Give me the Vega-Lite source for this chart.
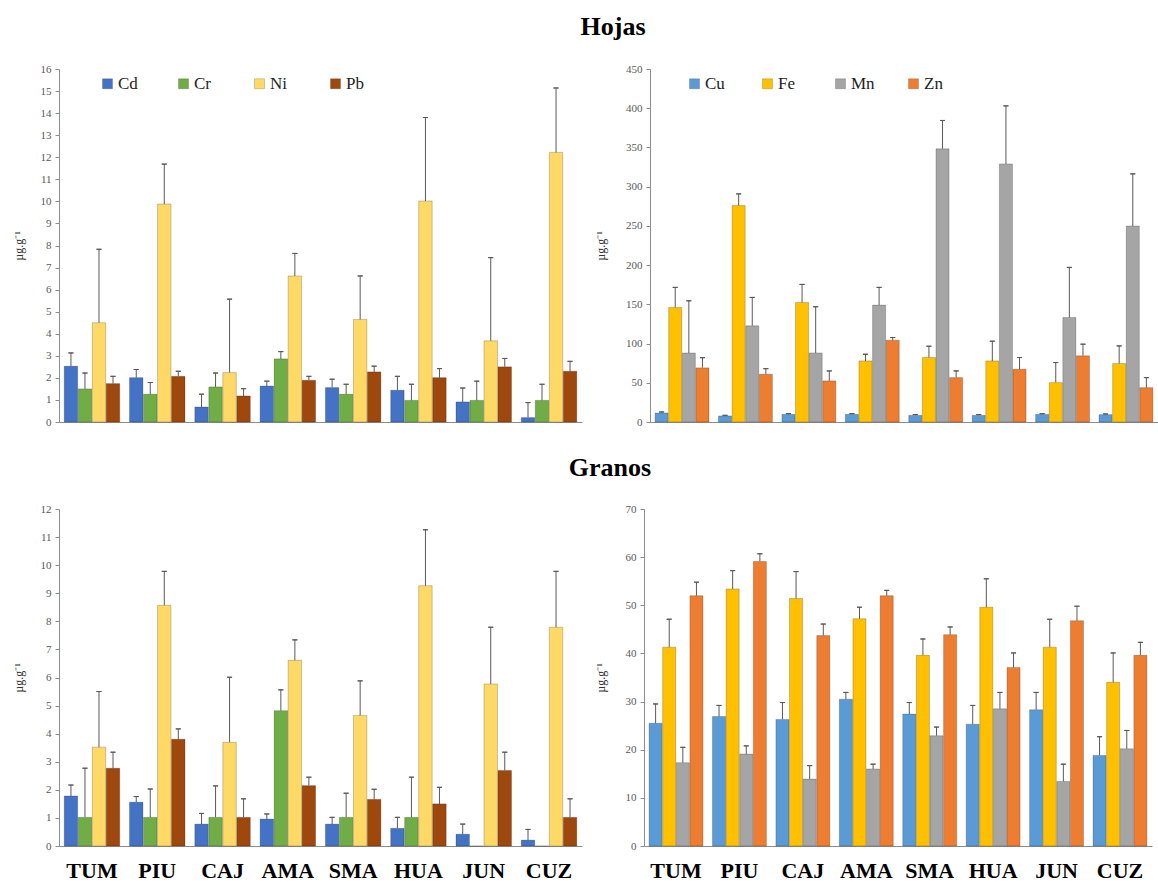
{
  "$schema": "https://vega.github.io/schema/vega-lite/v6.json",
  "background": "white",
  "padding": {"left": 12, "top": 14, "right": 0, "bottom": 0},
  "config": {
    "font": "Liberation Serif",
    "view": {"stroke": null},
    "axis": {"grid": false, "domainColor": "#8c8c8c", "tickColor": "#8c8c8c", "labelFont": "Liberation Serif", "titleFont": "Liberation Serif"},
    "legend": {"labelFont": "Liberation Serif"},
    "concat": {"spacing": 12}
  },
  "datasets": {
    "hojasA": [
      {"loc": "TUM", "el": "Cd", "v": 2.53, "e": 3.13}, {"loc": "TUM", "el": "Cr", "v": 1.50, "e": 2.22}, {"loc": "TUM", "el": "Ni", "v": 4.50, "e": 7.83}, {"loc": "TUM", "el": "Pb", "v": 1.74, "e": 2.07},
      {"loc": "PIU", "el": "Cd", "v": 2.01, "e": 2.38}, {"loc": "PIU", "el": "Cr", "v": 1.26, "e": 1.79}, {"loc": "PIU", "el": "Ni", "v": 9.88, "e": 11.69}, {"loc": "PIU", "el": "Pb", "v": 2.07, "e": 2.30},
      {"loc": "CAJ", "el": "Cd", "v": 0.68, "e": 1.26}, {"loc": "CAJ", "el": "Cr", "v": 1.59, "e": 2.22}, {"loc": "CAJ", "el": "Ni", "v": 2.24, "e": 5.57}, {"loc": "CAJ", "el": "Pb", "v": 1.18, "e": 1.51},
      {"loc": "AMA", "el": "Cd", "v": 1.63, "e": 1.85}, {"loc": "AMA", "el": "Cr", "v": 2.86, "e": 3.19}, {"loc": "AMA", "el": "Ni", "v": 6.62, "e": 7.64}, {"loc": "AMA", "el": "Pb", "v": 1.89, "e": 2.07},
      {"loc": "SMA", "el": "Cd", "v": 1.56, "e": 1.94}, {"loc": "SMA", "el": "Cr", "v": 1.26, "e": 1.71}, {"loc": "SMA", "el": "Ni", "v": 4.65, "e": 6.62}, {"loc": "SMA", "el": "Pb", "v": 2.27, "e": 2.53},
      {"loc": "HUA", "el": "Cd", "v": 1.44, "e": 2.07}, {"loc": "HUA", "el": "Cr", "v": 0.98, "e": 1.71}, {"loc": "HUA", "el": "Ni", "v": 10.02, "e": 13.80}, {"loc": "HUA", "el": "Pb", "v": 2.01, "e": 2.42},
      {"loc": "JUN", "el": "Cd", "v": 0.91, "e": 1.54}, {"loc": "JUN", "el": "Cr", "v": 0.98, "e": 1.85}, {"loc": "JUN", "el": "Ni", "v": 3.68, "e": 7.45}, {"loc": "JUN", "el": "Pb", "v": 2.50, "e": 2.88},
      {"loc": "CUZ", "el": "Cd", "v": 0.20, "e": 0.88}, {"loc": "CUZ", "el": "Cr", "v": 0.98, "e": 1.71}, {"loc": "CUZ", "el": "Ni", "v": 12.22, "e": 15.14}, {"loc": "CUZ", "el": "Pb", "v": 2.30, "e": 2.75}
    ],
    "hojasB": [
      {"loc": "TUM", "el": "Cu", "v": 11.5, "e": 12.8}, {"loc": "TUM", "el": "Fe", "v": 146.0, "e": 171.6}, {"loc": "TUM", "el": "Mn", "v": 88.0, "e": 154.5}, {"loc": "TUM", "el": "Zn", "v": 69.0, "e": 82.0},
      {"loc": "PIU", "el": "Cu", "v": 7.7, "e": 8.5}, {"loc": "PIU", "el": "Fe", "v": 275.9, "e": 290.8}, {"loc": "PIU", "el": "Mn", "v": 122.6, "e": 158.8}, {"loc": "PIU", "el": "Zn", "v": 60.9, "e": 68.0},
      {"loc": "CAJ", "el": "Cu", "v": 9.8, "e": 10.6}, {"loc": "CAJ", "el": "Fe", "v": 152.4, "e": 175.4}, {"loc": "CAJ", "el": "Mn", "v": 88.1, "e": 146.9}, {"loc": "CAJ", "el": "Zn", "v": 52.4, "e": 65.1},
      {"loc": "AMA", "el": "Cu", "v": 9.8, "e": 10.6}, {"loc": "AMA", "el": "Fe", "v": 77.9, "e": 86.4}, {"loc": "AMA", "el": "Mn", "v": 149.0, "e": 171.6}, {"loc": "AMA", "el": "Zn", "v": 104.3, "e": 107.7},
      {"loc": "SMA", "el": "Cu", "v": 8.5, "e": 9.5}, {"loc": "SMA", "el": "Fe", "v": 82.2, "e": 96.6}, {"loc": "SMA", "el": "Mn", "v": 348.2, "e": 384.4}, {"loc": "SMA", "el": "Zn", "v": 56.6, "e": 65.1},
      {"loc": "HUA", "el": "Cu", "v": 8.5, "e": 9.5}, {"loc": "HUA", "el": "Fe", "v": 77.9, "e": 103.0}, {"loc": "HUA", "el": "Mn", "v": 329.0, "e": 403.0}, {"loc": "HUA", "el": "Zn", "v": 67.3, "e": 82.2},
      {"loc": "JUN", "el": "Cu", "v": 9.8, "e": 10.6}, {"loc": "JUN", "el": "Fe", "v": 50.2, "e": 75.8}, {"loc": "JUN", "el": "Mn", "v": 133.2, "e": 197.1}, {"loc": "JUN", "el": "Zn", "v": 84.3, "e": 99.2},
      {"loc": "CUZ", "el": "Cu", "v": 9.4, "e": 10.2}, {"loc": "CUZ", "el": "Fe", "v": 74.5, "e": 97.0}, {"loc": "CUZ", "el": "Mn", "v": 249.9, "e": 316.3}, {"loc": "CUZ", "el": "Zn", "v": 43.8, "e": 56.6}
    ],
    "granosA": [
      {"loc": "TUM", "el": "Cd", "v": 1.78, "e": 2.17}, {"loc": "TUM", "el": "Cr", "v": 1.02, "e": 2.77}, {"loc": "TUM", "el": "Ni", "v": 3.52, "e": 5.50}, {"loc": "TUM", "el": "Pb", "v": 2.77, "e": 3.34},
      {"loc": "PIU", "el": "Cd", "v": 1.56, "e": 1.76}, {"loc": "PIU", "el": "Cr", "v": 1.02, "e": 2.03}, {"loc": "PIU", "el": "Ni", "v": 8.57, "e": 9.78}, {"loc": "PIU", "el": "Pb", "v": 3.80, "e": 4.17},
      {"loc": "CAJ", "el": "Cd", "v": 0.78, "e": 1.16}, {"loc": "CAJ", "el": "Cr", "v": 1.02, "e": 2.14}, {"loc": "CAJ", "el": "Ni", "v": 3.69, "e": 6.01}, {"loc": "CAJ", "el": "Pb", "v": 1.02, "e": 1.68},
      {"loc": "AMA", "el": "Cd", "v": 0.96, "e": 1.14}, {"loc": "AMA", "el": "Cr", "v": 4.82, "e": 5.56}, {"loc": "AMA", "el": "Ni", "v": 6.61, "e": 7.34}, {"loc": "AMA", "el": "Pb", "v": 2.15, "e": 2.45},
      {"loc": "SMA", "el": "Cd", "v": 0.78, "e": 1.02}, {"loc": "SMA", "el": "Cr", "v": 1.02, "e": 1.88}, {"loc": "SMA", "el": "Ni", "v": 4.65, "e": 5.88}, {"loc": "SMA", "el": "Pb", "v": 1.66, "e": 2.02},
      {"loc": "HUA", "el": "Cd", "v": 0.63, "e": 1.02}, {"loc": "HUA", "el": "Cr", "v": 1.02, "e": 2.45}, {"loc": "HUA", "el": "Ni", "v": 9.27, "e": 11.26}, {"loc": "HUA", "el": "Pb", "v": 1.50, "e": 2.09},
      {"loc": "JUN", "el": "Cd", "v": 0.42, "e": 0.78}, {"loc": "JUN", "el": "Cr", "v": 0, "e": 0}, {"loc": "JUN", "el": "Ni", "v": 5.77, "e": 7.79}, {"loc": "JUN", "el": "Pb", "v": 2.69, "e": 3.34},
      {"loc": "CUZ", "el": "Cd", "v": 0.21, "e": 0.59}, {"loc": "CUZ", "el": "Cr", "v": 0, "e": 0}, {"loc": "CUZ", "el": "Ni", "v": 7.79, "e": 9.78}, {"loc": "CUZ", "el": "Pb", "v": 1.02, "e": 1.68}
    ],
    "granosB": [
      {"loc": "TUM", "el": "Cu", "v": 25.5, "e": 29.5}, {"loc": "TUM", "el": "Fe", "v": 41.3, "e": 47.1}, {"loc": "TUM", "el": "Mn", "v": 17.3, "e": 20.5}, {"loc": "TUM", "el": "Zn", "v": 52.0, "e": 54.8},
      {"loc": "PIU", "el": "Cu", "v": 26.9, "e": 29.2}, {"loc": "PIU", "el": "Fe", "v": 53.4, "e": 57.2}, {"loc": "PIU", "el": "Mn", "v": 19.1, "e": 20.8}, {"loc": "PIU", "el": "Zn", "v": 59.1, "e": 60.7},
      {"loc": "CAJ", "el": "Cu", "v": 26.3, "e": 29.8}, {"loc": "CAJ", "el": "Fe", "v": 51.4, "e": 57.0}, {"loc": "CAJ", "el": "Mn", "v": 13.9, "e": 16.7}, {"loc": "CAJ", "el": "Zn", "v": 43.7, "e": 46.1},
      {"loc": "AMA", "el": "Cu", "v": 30.5, "e": 31.9}, {"loc": "AMA", "el": "Fe", "v": 47.2, "e": 49.6}, {"loc": "AMA", "el": "Mn", "v": 16.0, "e": 17.0}, {"loc": "AMA", "el": "Zn", "v": 52.0, "e": 53.1},
      {"loc": "SMA", "el": "Cu", "v": 27.4, "e": 29.8}, {"loc": "SMA", "el": "Fe", "v": 39.6, "e": 43.0}, {"loc": "SMA", "el": "Mn", "v": 22.9, "e": 24.7}, {"loc": "SMA", "el": "Zn", "v": 43.9, "e": 45.5},
      {"loc": "HUA", "el": "Cu", "v": 25.3, "e": 29.2}, {"loc": "HUA", "el": "Fe", "v": 49.6, "e": 55.5}, {"loc": "HUA", "el": "Mn", "v": 28.5, "e": 31.9}, {"loc": "HUA", "el": "Zn", "v": 37.1, "e": 40.1},
      {"loc": "JUN", "el": "Cu", "v": 28.3, "e": 31.9}, {"loc": "JUN", "el": "Fe", "v": 41.3, "e": 47.1}, {"loc": "JUN", "el": "Mn", "v": 13.4, "e": 17.0}, {"loc": "JUN", "el": "Zn", "v": 46.8, "e": 49.8},
      {"loc": "CUZ", "el": "Cu", "v": 18.8, "e": 22.7}, {"loc": "CUZ", "el": "Fe", "v": 34.0, "e": 40.1}, {"loc": "CUZ", "el": "Mn", "v": 20.2, "e": 24.0}, {"loc": "CUZ", "el": "Zn", "v": 39.6, "e": 42.3}
    ]
  },
  "resolve": {"scale": {"color": "independent", "x": "independent", "xOffset": "independent", "y": "independent"}, "legend": {"color": "independent"}},
  "spacing": 28,
  "vconcat": [
    {
      "title": {"text": "Hojas", "fontSize": 26, "fontWeight": "bold", "font": "Liberation Serif", "color": "#000", "anchor": "middle", "dx": 28, "offset": 23},
      "resolve": {"scale": {"color": "independent", "x": "independent", "xOffset": "independent", "y": "independent"}, "legend": {"color": "independent"}},
      "hconcat": [
        {
          "width": 523, "height": 353,
          "data": {"name": "hojasA"},
          "encoding": {
            "x": {"field": "loc", "type": "nominal", "sort": ["TUM","PIU","CAJ","AMA","SMA","HUA","JUN","CUZ"], "scale": {"type": "band", "paddingInner": 0.15, "paddingOuter": 0.08}, "axis": {"title": null, "labels": false, "ticks": false}},
            "xOffset": {"field": "el", "type": "nominal", "sort": ["Cd","Cr","Ni","Pb"], "scale": {"type": "band", "paddingInner": 0.04, "paddingOuter": 0}},
            "y": {"field": "v", "type": "quantitative", "scale": {"domain": [0, 16]}, "axis": {"title": "µg.g⁻¹", "titleFont": "Liberation Serif", "titleFontSize": 12, "titleFontWeight": "normal", "titleColor": "#333", "titlePadding": 15, "values": [0,1,2,3,4,5,6,7,8,9,10,11,12,13,14,15,16], "labelOverlap": false, "labelFont": "Liberation Serif", "labelFontSize": 11, "labelColor": "#595959", "tickSize": 4, "labelPadding": 4}}
          },
          "layer": [
            {"mark": {"type": "bar", "stroke": "#00000040", "strokeWidth": 0.8},
             "encoding": {
               "color": {"field": "el", "type": "nominal", "scale": {"domain": ["Cd","Cr","Ni","Pb"], "range": ["#4472C4","#70AD47","#FFD966","#9E480E"]},
                 "legend": {"title": null, "orient": "none", "legendX": 40, "legendY": 6, "direction": "horizontal", "columns": 4, "gridAlign": "all", "columnPadding": 37, "labelFont": "Liberation Serif", "labelFontSize": 17, "labelColor": "#222", "symbolType": "square", "symbolSize": 100, "labelOffset": 2, "symbolStrokeColor": "#00000040", "symbolStrokeWidth": 0.7}}
             }},
            {"transform": [{"filter": "datum.e > datum.v"}], "mark": {"type": "bar", "width": 1, "color": "#595959"}, "encoding": {"y2": {"field": "e"}}},
            {"transform": [{"filter": "datum.e > datum.v"}], "mark": {"type": "bar", "width": 5, "color": "#595959", "stroke": "#595959", "strokeWidth": 1}, "encoding": {"y": {"field": "e", "type": "quantitative"}, "y2": {"field": "e"}}}
          ]
        },
        {
          "width": 508, "height": 353,
          "data": {"name": "hojasB"},
          "encoding": {
            "x": {"field": "loc", "type": "nominal", "sort": ["TUM","PIU","CAJ","AMA","SMA","HUA","JUN","CUZ"], "scale": {"type": "band", "paddingInner": 0.15, "paddingOuter": 0.08}, "axis": {"title": null, "labels": false, "ticks": false}},
            "xOffset": {"field": "el", "type": "nominal", "sort": ["Cu","Fe","Mn","Zn"], "scale": {"type": "band", "paddingInner": 0.04, "paddingOuter": 0}},
            "y": {"field": "v", "type": "quantitative", "scale": {"domain": [0, 450]}, "axis": {"title": "µg.g⁻¹", "titleFont": "Liberation Serif", "titleFontSize": 12, "titleFontWeight": "normal", "titleColor": "#333", "titlePadding": 18, "values": [0,50,100,150,200,250,300,350,400,450], "labelOverlap": false, "labelFont": "Liberation Serif", "labelFontSize": 11, "labelColor": "#595959", "tickSize": 4, "labelPadding": 4}}
          },
          "layer": [
            {"mark": {"type": "bar", "stroke": "#00000040", "strokeWidth": 0.8},
             "encoding": {
               "color": {"field": "el", "type": "nominal", "scale": {"domain": ["Cu","Fe","Mn","Zn"], "range": ["#5B9BD5","#FFC000","#A5A5A5","#ED7D31"]},
                 "legend": {"title": null, "orient": "none", "legendX": 36, "legendY": 6, "direction": "horizontal", "columns": 4, "gridAlign": "all", "columnPadding": 30, "labelFont": "Liberation Serif", "labelFontSize": 17, "labelColor": "#222", "symbolType": "square", "symbolSize": 100, "labelOffset": 2, "symbolStrokeColor": "#00000040", "symbolStrokeWidth": 0.7}}
             }},
            {"transform": [{"filter": "datum.e > datum.v"}], "mark": {"type": "bar", "width": 1, "color": "#595959"}, "encoding": {"y2": {"field": "e"}}},
            {"transform": [{"filter": "datum.e > datum.v"}], "mark": {"type": "bar", "width": 5, "color": "#595959", "stroke": "#595959", "strokeWidth": 1}, "encoding": {"y": {"field": "e", "type": "quantitative"}, "y2": {"field": "e"}}}
          ]
        }
      ]
    },
    {
      "title": {"text": "Granos", "fontSize": 26, "fontWeight": "bold", "font": "Liberation Serif", "color": "#000", "anchor": "middle", "dx": 28, "offset": 22},
      "resolve": {"scale": {"color": "independent", "x": "independent", "xOffset": "independent", "y": "independent"}, "legend": {"color": "independent"}},
      "hconcat": [
        {
          "width": 523, "height": 337,
          "data": {"name": "granosA"},
          "encoding": {
            "x": {"field": "loc", "type": "nominal", "sort": ["TUM","PIU","CAJ","AMA","SMA","HUA","JUN","CUZ"], "scale": {"type": "band", "paddingInner": 0.15, "paddingOuter": 0.08}, "axis": {"title": null, "ticks": false, "labelFont": "Liberation Serif", "labelFontSize": 22, "labelFontWeight": "bold", "labelColor": "#000", "labelPadding": 14, "labelAngle": 0}},
            "xOffset": {"field": "el", "type": "nominal", "sort": ["Cd","Cr","Ni","Pb"], "scale": {"type": "band", "paddingInner": 0.04, "paddingOuter": 0}},
            "y": {"field": "v", "type": "quantitative", "scale": {"domain": [0, 12]}, "axis": {"title": "µg.g⁻¹", "titleFont": "Liberation Serif", "titleFontSize": 12, "titleFontWeight": "normal", "titleColor": "#333", "titlePadding": 15, "values": [0,1,2,3,4,5,6,7,8,9,10,11,12], "labelOverlap": false, "labelFont": "Liberation Serif", "labelFontSize": 11, "labelColor": "#595959", "tickSize": 4, "labelPadding": 4}}
          },
          "layer": [
            {"mark": {"type": "bar", "stroke": "#00000040", "strokeWidth": 0.8},
             "encoding": {
               "color": {"field": "el", "type": "nominal", "scale": {"domain": ["Cd","Cr","Ni","Pb"], "range": ["#4472C4","#70AD47","#FFD966","#9E480E"]}, "legend": null}
             }},
            {"transform": [{"filter": "datum.e > datum.v"}], "mark": {"type": "bar", "width": 1, "color": "#595959"}, "encoding": {"y2": {"field": "e"}}},
            {"transform": [{"filter": "datum.e > datum.v"}], "mark": {"type": "bar", "width": 5, "color": "#595959", "stroke": "#595959", "strokeWidth": 1}, "encoding": {"y": {"field": "e", "type": "quantitative"}, "y2": {"field": "e"}}}
          ]
        },
        {
          "width": 508, "height": 337,
          "data": {"name": "granosB"},
          "encoding": {
            "x": {"field": "loc", "type": "nominal", "sort": ["TUM","PIU","CAJ","AMA","SMA","HUA","JUN","CUZ"], "scale": {"type": "band", "paddingInner": 0.15, "paddingOuter": 0.08}, "axis": {"title": null, "ticks": false, "labelFont": "Liberation Serif", "labelFontSize": 22, "labelFontWeight": "bold", "labelColor": "#000", "labelPadding": 14, "labelAngle": 0}},
            "xOffset": {"field": "el", "type": "nominal", "sort": ["Cu","Fe","Mn","Zn"], "scale": {"type": "band", "paddingInner": 0.04, "paddingOuter": 0}},
            "y": {"field": "v", "type": "quantitative", "scale": {"domain": [0, 70]}, "axis": {"title": "µg.g⁻¹", "titleFont": "Liberation Serif", "titleFontSize": 12, "titleFontWeight": "normal", "titleColor": "#333", "titlePadding": 18, "values": [0,10,20,30,40,50,60,70], "labelOverlap": false, "labelFont": "Liberation Serif", "labelFontSize": 11, "labelColor": "#595959", "tickSize": 4, "labelPadding": 4}}
          },
          "layer": [
            {"mark": {"type": "bar", "stroke": "#00000040", "strokeWidth": 0.8},
             "encoding": {
               "color": {"field": "el", "type": "nominal", "scale": {"domain": ["Cu","Fe","Mn","Zn"], "range": ["#5B9BD5","#FFC000","#A5A5A5","#ED7D31"]}, "legend": null}
             }},
            {"transform": [{"filter": "datum.e > datum.v"}], "mark": {"type": "bar", "width": 1, "color": "#595959"}, "encoding": {"y2": {"field": "e"}}},
            {"transform": [{"filter": "datum.e > datum.v"}], "mark": {"type": "bar", "width": 5, "color": "#595959", "stroke": "#595959", "strokeWidth": 1}, "encoding": {"y": {"field": "e", "type": "quantitative"}, "y2": {"field": "e"}}}
          ]
        }
      ]
    }
  ]
}
